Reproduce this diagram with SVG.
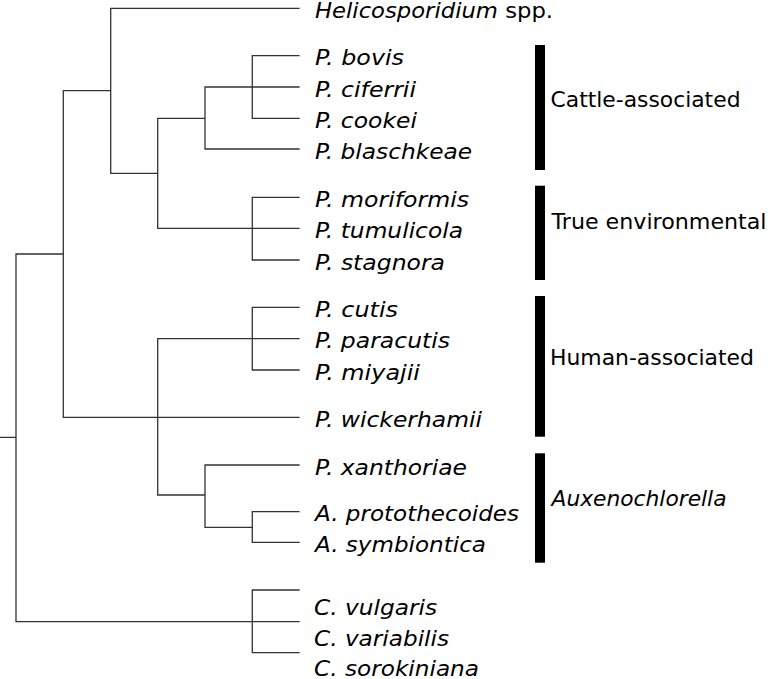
<svg xmlns="http://www.w3.org/2000/svg" width="768" height="679" viewBox="0 0 768 679">
<style>
.e{fill:none;stroke:#333;stroke-width:1.3;stroke-linecap:square}
.t{font-family:"DejaVu Sans",Verdana,sans-serif;font-size:21px;font-style:italic;fill:#000}
.g{font-family:"DejaVu Sans",Verdana,sans-serif;font-size:21px;fill:#000}
.b{fill:#000}
</style>
<rect width="768" height="679" fill="#fff"/>
<g id="connectors">
<path class="e" d="M0 437.3H16M16 254V621.7M16 254H63.3M16 621.7H299M63.3 90.7V417.3M63.3 90.7H110.7M63.3 417.3H299M110.7 8.3V173.3M110.7 8.3H299M110.7 173.3H157.7M157.7 118.3V228.3M157.7 118.3H205M157.7 228.3H299M205 87V149M205 87H299M205 149H299M252.3 55.7V118.3M252.3 55.7H299M252.3 118.3H299M252.3 197.3V260M252.3 197.3H299M252.3 260H299M157.7 338.7V495M157.7 338.7H299M252.3 307.3V370M252.3 307.3H299M252.3 370H299M157.7 495H205M205 465V527.3M205 465H299M205 527.3H252.3M252.3 511.7V542.3M252.3 511.7H299M252.3 542.3H299M252.3 590V652.7M252.3 590H299M252.3 652.7H299"/>
</g>
<g id="taxa">
<text class="t" x="315" y="17.5" textLength="238" lengthAdjust="spacingAndGlyphs">Helicosporidium<tspan font-style="normal"> spp.</tspan></text>
<text class="t" x="315" y="65" textLength="89" lengthAdjust="spacingAndGlyphs">P. bovis</text>
<text class="t" x="315" y="96.5" textLength="101" lengthAdjust="spacingAndGlyphs">P. ciferrii</text>
<text class="t" x="315" y="127.8" textLength="102" lengthAdjust="spacingAndGlyphs">P. cookei</text>
<text class="t" x="315" y="158.5" textLength="157" lengthAdjust="spacingAndGlyphs">P. blaschkeae</text>
<text class="t" x="315" y="206.8" textLength="154" lengthAdjust="spacingAndGlyphs">P. moriformis</text>
<text class="t" x="315" y="237.8" textLength="148" lengthAdjust="spacingAndGlyphs">P. tumulicola</text>
<text class="t" x="315" y="269.5" textLength="130" lengthAdjust="spacingAndGlyphs">P. stagnora</text>
<text class="t" x="315" y="316.8" textLength="83" lengthAdjust="spacingAndGlyphs">P. cutis</text>
<text class="t" x="315" y="348.2" textLength="135" lengthAdjust="spacingAndGlyphs">P. paracutis</text>
<text class="t" x="315" y="379.5" textLength="105" lengthAdjust="spacingAndGlyphs">P. miyajii</text>
<text class="t" x="315" y="426.8" textLength="167" lengthAdjust="spacingAndGlyphs">P. wickerhamii</text>
<text class="t" x="315" y="474.5" textLength="152" lengthAdjust="spacingAndGlyphs">P. xanthoriae</text>
<text class="t" x="315" y="521.2" textLength="204" lengthAdjust="spacingAndGlyphs">A. protothecoides</text>
<text class="t" x="315" y="551.8" textLength="171" lengthAdjust="spacingAndGlyphs">A. symbiontica</text>
<text class="t" x="314" y="615" textLength="123" lengthAdjust="spacingAndGlyphs">C. vulgaris</text>
<text class="t" x="314" y="645.5" textLength="135" lengthAdjust="spacingAndGlyphs">C. variabilis</text>
<text class="t" x="314" y="675.5" textLength="165" lengthAdjust="spacingAndGlyphs">C. sorokiniana</text>
</g>
<g id="group-cattle">
<rect class="b" x="535" y="45" width="10" height="125"/>
<text class="g" x="550.5" y="106.7" textLength="190" lengthAdjust="spacingAndGlyphs">Cattle-associated</text>
</g>
<g id="group-environmental">
<rect class="b" x="535" y="185.7" width="10" height="94.3"/>
<text class="g" x="551.5" y="229.3" textLength="215" lengthAdjust="spacingAndGlyphs">True environmental</text>
</g>
<g id="group-human">
<rect class="b" x="535" y="296" width="10" height="140.7"/>
<text class="g" x="550" y="365" textLength="204" lengthAdjust="spacingAndGlyphs">Human-associated</text>
</g>
<g id="group-auxenochlorella">
<rect class="b" x="535" y="453.3" width="10" height="109.4"/>
<text class="t" x="551.5" y="506" textLength="175" lengthAdjust="spacingAndGlyphs">Auxenochlorella</text>
</g>
</svg>
